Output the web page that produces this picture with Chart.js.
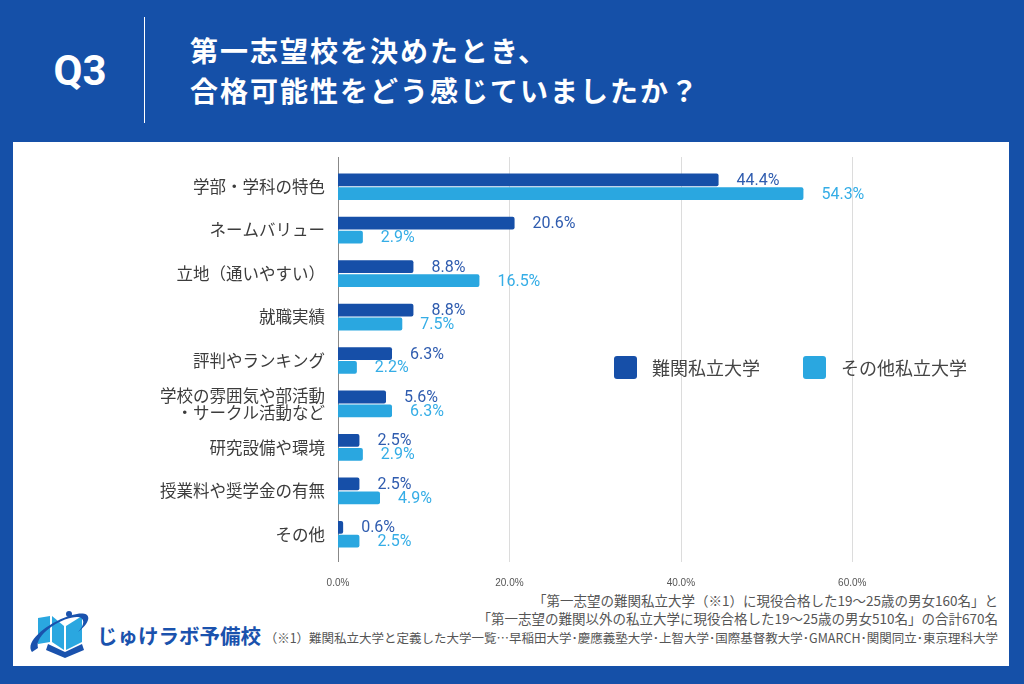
<!DOCTYPE html>
<html lang="ja">
<head>
<meta charset="utf-8">
<script src="https://cdn.jsdelivr.net/npm/chart.js@4.4.1/dist/chart.umd.min.js"></script>
<style>
  html, body { margin: 0; padding: 0; }
  body { width: 1024px; height: 684px; background: #1550a8; position: relative; overflow: hidden;
         font-family: "Noto Sans CJK JP", "Noto Sans", sans-serif; }
  #panel { position: absolute; left: 13px; top: 142px; width: 996px; height: 524px; background: #fff; }
  #q { position: absolute; left: 50px; top: 48px; width: 60px; text-align: center; color: #fff;
       font: bold 42px Roboto, sans-serif; line-height: 46px; }
  #bar { position: absolute; left: 144px; top: 17px; width: 1px; height: 106px; background: #fff; }
  #title { position: absolute; left: 190px; top: 30px; color: #fff; font-weight: bold; font-size: 28px;
           line-height: 40px; letter-spacing: 2px; }
  #note { position: absolute; right: 26px; top: 591px; text-align: right; color: #555; font-size: 13.5px; line-height: 18px; }
  #note2 { position: absolute; right: 26px; top: 630px; text-align: right; color: #555; font-size: 12.5px; line-height: 16px; }
  #logo { position: absolute; left: 28px; top: 604px; }
  #logotext { position: absolute; left: 97px; top: 620px; color: #1a52ad; font-weight: bold; font-size: 20.5px; line-height: 30px; }
  #c { position: absolute; left: 0; top: 0; }
</style>
</head>
<body>
<div id="panel"></div>
<div id="q">Q3</div>
<div id="bar"></div>
<div id="title">第一志望校を決めたとき、<br>合格可能性をどう感じていましたか？</div>
<div id="note">「第一志望の難関私立大学（※1）に現役合格した19～25歳の男女160名」と<br>「第一志望の難関以外の私立大学に現役合格した19～25歳の男女510名」の合計670名</div>
<div id="note2">（※1）難関私立大学と定義した大学一覧…早稲田大学･慶應義塾大学･上智大学･国際基督教大学･GMARCH･関関同立･東京理科大学</div>
<svg id="logo" width="66" height="54" viewBox="0 0 66 54">
  <path d="M10 14 L22 12 L22 38 L10 40 Z" fill="#2aa7e0"/>
  <path d="M24 12 L36 22 L36 46 L24 38 Z" fill="#2aa7e0"/>
  <path d="M38 22 L54 12 L54 38 L38 46 Z" fill="#2aa7e0"/>
  <path d="M20 40 L37 48 L54 40 L56 46 L37 54 L18 46 Z" fill="#1a52ad"/>
  <path d="M4 48 C -4 38, 20 18, 44 11 C 54 8, 62 9, 60 16 C 58 22, 52 26, 50 28 C 56 22, 58 14, 50 13 C 36 12, 6 30, 10 44 Z" fill="#1a52ad"/>
  <circle cx="41" cy="10" r="3" fill="#1a52ad"/>
</svg>
<div id="logotext">じゅけラボ予備校</div>
<canvas id="c" width="1024" height="684"></canvas>
<script>
const categories = [
  "学部・学科の特色",
  "ネームバリュー",
  "立地（通いやすい）",
  "就職実績",
  "評判やランキング",
  ["学校の雰囲気や部活動", "・サークル活動など"],
  "研究設備や環境",
  "授業料や奨学金の有無",
  "その他"
];
const seriesNames = ["難関私立大学", "その他私立大学"];
const nankanValues = [44.4, 20.6, 8.8, 8.8, 6.3, 5.6, 2.5, 2.5, 0.6];
const sonotaValues = [54.3, 2.9, 16.5, 7.5, 2.2, 6.3, 2.9, 4.9, 2.5];
const tickValues = [0, 20, 40, 60];

const darkBlue = "#164fa8";
const lightBlue = "#2aa7e0";
const labelColors = ["#2f5caf", "#35ade6"];

// grid lines + axis line, a bit taller than the plot area like the original
const gridPlugin = {
  id: "gridLines",
  beforeDatasetsDraw(chart) {
    const ctx = chart.ctx, x = chart.scales.x, a = chart.chartArea;
    ctx.save();
    tickValues.forEach(v => {
      const px = Math.round(x.getPixelForValue(v)) + 0.5;
      ctx.strokeStyle = v === 0 ? "#888" : "#dcdcdc";
      ctx.lineWidth = 1;
      ctx.beginPath();
      ctx.moveTo(px, a.top - 8);
      ctx.lineTo(px, a.bottom + 6);
      ctx.stroke();
    });
    ctx.restore();
  }
};

const valueLabels = {
  id: "valueLabels",
  afterDatasetsDraw(chart) {
    const ctx = chart.ctx;
    ctx.save();
    ctx.font = "16px Roboto, sans-serif";
    ctx.textAlign = "left";
    ctx.textBaseline = "middle";
    chart.data.datasets.forEach((ds, i) => {
      ctx.fillStyle = labelColors[i];
      chart.getDatasetMeta(i).data.forEach((el, j) => {
        ctx.fillText(ds.data[j].toFixed(1) + "%", el.x + 18, el.y + 1);
      });
    });
    ctx.restore();
  }
};

const legendPlugin = {
  id: "insideLegend",
  afterDraw(chart) {
    const ctx = chart.ctx;
    const pos = [614, 803];
    ctx.save();
    ctx.font = "18px 'Noto Sans CJK JP'";
    ctx.textBaseline = "middle";
    chart.data.datasets.forEach((ds, i) => {
      ctx.fillStyle = ds.backgroundColor;
      ctx.beginPath();
      ctx.roundRect(pos[i], 356, 23, 23, 3);
      ctx.fill();
      ctx.fillStyle = "#444";
      ctx.fillText(ds.label, pos[i] + 38, 368);
    });
    ctx.restore();
  }
};

new Chart("c", {
  type: "bar",
  data: {
    labels: categories,
    datasets: [{
      label: seriesNames[0],
      data: nankanValues,
      backgroundColor: darkBlue,
      borderRadius: 2,
      categoryPercentage: 0.64,
      barPercentage: 0.92
    }, {
      label: seriesNames[1],
      data: sonotaValues,
      backgroundColor: lightBlue,
      borderRadius: 2,
      categoryPercentage: 0.64,
      barPercentage: 0.92
    }]
  },
  options: {
    indexAxis: "y",
    responsive: false,
    animation: false,
    layout: { padding: { left: 0, top: 165, right: 86, bottom: 98 } },
    plugins: {
      legend: { display: false },
      tooltip: { enabled: false }
    },
    scales: {
      x: {
        min: 0,
        max: 70,
        afterBuildTicks: s => { s.ticks = tickValues.map(v => ({ value: v })); },
        afterFit: s => { s.height = 30; },
        grid: { display: false },
        border: { display: false },
        ticks: {
          color: "#555",
          padding: 13,
          font: { family: "Liberation Sans", size: 10 },
          callback: v => v.toFixed(1) + "%"
        }
      },
      y: {
        afterFit: s => { s.width = 338; },
        grid: { display: false },
        border: { display: false },
        ticks: {
          color: "#3c3c3c",
          padding: 5,
          font: { family: "Noto Sans CJK JP", size: 16.5, lineHeight: 1.05 }
        }
      }
    }
  },
  plugins: [gridPlugin, valueLabels, legendPlugin]
});
</script>
</body>
</html>
